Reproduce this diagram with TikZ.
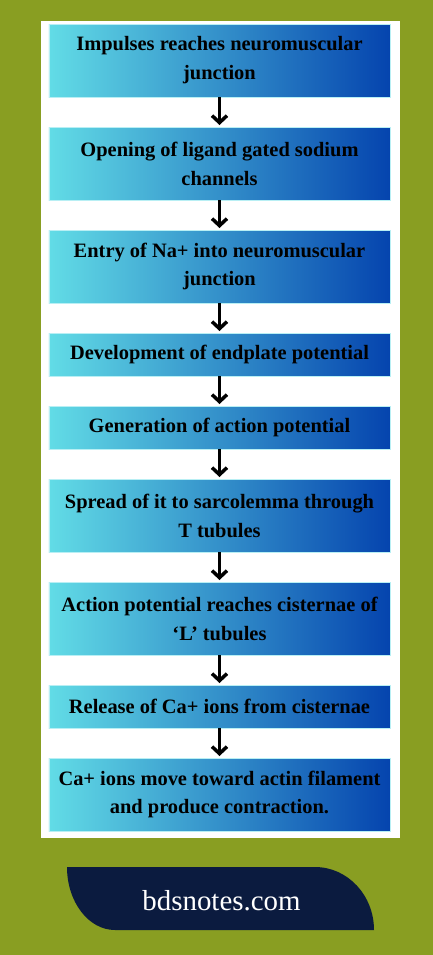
\documentclass[tikz,border=0pt]{standalone}
\usepackage{fontspec}
\setmainfont{Liberation Serif}
\usepackage{xcolor}
\usepackage{tikz}
\usetikzlibrary{positioning,arrows.meta}
\definecolor{olivebg}{RGB}{137,158,34}
\definecolor{navyband}{RGB}{11,27,63}
\definecolor{boxcyan}{RGB}{98,220,230}
\definecolor{boxblue}{RGB}{5,68,174}

\begin{document}
\begin{tikzpicture}[x=1bp,y=-1bp,
            node distance=30bp,
            stepbox/.style={rectangle,draw=boxcyan!45!white,line width=0.8bp,outer sep=0pt,left color=boxcyan,right color=boxblue,minimum width=341bp,minimum height=43bp,inner sep=2bp,align=center,font=\fontsize{20.5}{29}\selectfont\bfseries},
            tallbox/.style={stepbox,minimum height=73bp},
            arrow/.style={-{Straight Barb[length=7bp,width=15bp]},line width=3.5bp,shorten >=2bp}]
            \fill[olivebg] (0,0) rectangle (433,955);
            \fill[white] (41,21) rectangle (400,838);
            \node[tallbox] (s1) at (219.5,60.5) {Impulses reaches neuromuscular\\junction};
            \node[tallbox,below=of s1] (s2) {Opening of ligand gated sodium\\channels};
            \node[tallbox,below=of s2] (s3) {Entry of Na+ into neuromuscular\\junction};
            \node[stepbox,below=of s3] (s4) {Development of endplate potential};
            \node[stepbox,below=of s4] (s5) {Generation of action potential};
            \node[tallbox,below=of s5] (s6) {Spread of it to sarcolemma through\\T tubules};
            \node[tallbox,below=of s6] (s7) {Action potential reaches cisternae of\\‘L’ tubules};
            \node[stepbox,below=of s7] (s8) {Release of Ca+ ions from cisternae};
            \node[tallbox,below=of s8] (s9) {Ca+ ions move toward actin filament\\and produce contraction.};
            \draw[arrow] (s1)--(s2);
            \draw[arrow] (s2)--(s3);
            \draw[arrow] (s3)--(s4);
            \draw[arrow] (s4)--(s5);
            \draw[arrow] (s5)--(s6);
            \draw[arrow] (s6)--(s7);
            \draw[arrow] (s7)--(s8);
            \draw[arrow] (s8)--(s9);
            % footer band
            \fill[navyband] (67,867) -- (315,867) .. controls (347.6,867) and (374,895.2) .. (374,930) -- (115,930) .. controls (88.5,930) and (67,901.8) .. (67,867) -- cycle;
            \node[text=white,font=\fontsize{29}{34}\selectfont,anchor=base] (site) at (221.5,910) {bdsnotes.com};
        \end{tikzpicture}
\end{document}
